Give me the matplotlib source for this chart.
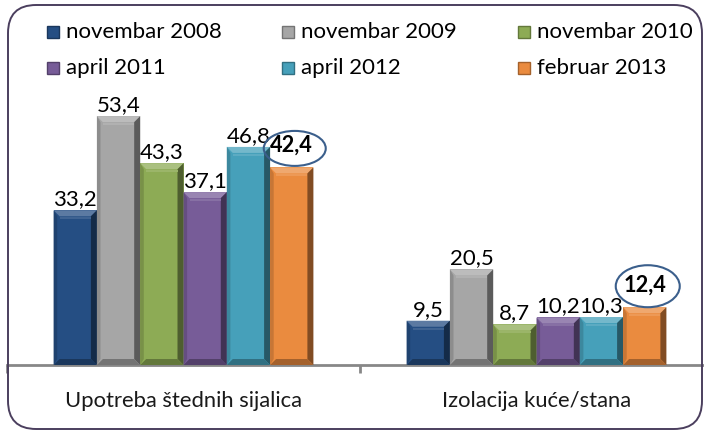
import matplotlib
matplotlib.use("Agg")
import matplotlib.pyplot as plt
import numpy as np
from matplotlib.patches import Polygon, Ellipse, Rectangle, FancyBboxPatch
from matplotlib.transforms import IdentityTransform
import matplotlib.colors as mcolors

categories = ["Upotreba štednih sijalica", "Izolacija kuće/stana"]
series = ["novembar 2008", "novembar 2009", "novembar 2010",
          "april 2011", "april 2012", "februar 2013"]
values = {
    "novembar 2008": [33.2, 9.5],
    "novembar 2009": [53.4, 20.5],
    "novembar 2010": [43.3, 8.7],
    "april 2011": [37.1, 10.2],
    "april 2012": [46.8, 10.3],
    "februar 2013": [42.4, 12.4],
}
value_labels = {
    "novembar 2008": ["33,2", "9,5"],
    "novembar 2009": ["53,4", "20,5"],
    "novembar 2010": ["43,3", "8,7"],
    "april 2011": ["37,1", "10,2"],
    "april 2012": ["46,8", "10,3"],
    "februar 2013": ["42,4", "12,4"],
}
highlight = "februar 2013"
colors = ["#254e83", "#a6a6a6", "#8dab55", "#775c98", "#46a0ba", "#ea8b3f"]

FONT = "Lato"
plt.rcParams['font.family'] = [FONT, 'DejaVu Sans']

W, H = 704, 434
fig = plt.figure(figsize=(W / 100, H / 100), dpi=100)
base_y = 365
px_per_unit = 4.66
ymax = 60
ax_left, ax_right = 7, 713
ax = fig.add_axes([ax_left / W, (H - base_y) / H, (ax_right - ax_left) / W,
                   ymax * px_per_unit / H])
ax.set_xlim(-0.5, 1.5)
ax.set_ylim(0, ymax)
for s in ["top", "right", "left"]:
    ax.spines[s].set_visible(False)
ax.spines["bottom"].set_color("#878787")
ax.spines["bottom"].set_linewidth(2)
ax.set_yticks([])
ax.set_xticks(np.arange(len(categories)))
ax.set_xticklabels(categories, fontsize=15.8, color="#1a1a1a")
ax.tick_params(axis="x", which="major", length=0, pad=19)
ax.set_xticks([-0.5, 0.5, 1.5], minor=True)
ax.tick_params(axis="x", which="minor", length=6, width=2, color="#878787")

n = len(series)
bw = 43.3 / 353
x = np.arange(len(categories))
bars_all = []
for i, s in enumerate(series):
    offs = (i - (n - 1) / 2) * bw
    bars = ax.bar(x + offs, values[s], width=bw, color=colors[i], zorder=2,
                  linewidth=0)
    bars_all.append(bars)

fig.canvas.draw()
idt = IdentityTransform()


def shade(c, f):
    r, g, b = mcolors.to_rgb(c)
    if f >= 0:
        return (r + (1 - r) * f, g + (1 - g) * f, b + (1 - b) * f)
    return (r * (1 + f), g * (1 + f), b * (1 + f))


bev = 6
for i, s in enumerate(series):
    for j, bar in enumerate(bars_all[i]):
        x0, y0 = ax.transData.transform((bar.get_x(), 0))
        x1, y1 = ax.transData.transform((bar.get_x() + bar.get_width(), bar.get_height()))
        c = colors[i]
        b = min(bev, (y1 - y0) / 2.5)
        facets = [
            ([(x0, y1), (x1, y1), (x1 - b, y1 - b), (x0 + b, y1 - b)], shade(c, 0.25)),
            ([(x1, y1), (x1, y0), (x1 - b, y0 + b), (x1 - b, y1 - b)], shade(c, -0.45)),
            ([(x0, y0), (x1, y0), (x1 - b, y0 + b), (x0 + b, y0 + b)], shade(c, -0.3)),
            ([(x0, y0), (x0, y1), (x0 + b * 0.6, y1 - b), (x0 + b * 0.6, y0 + b)], shade(c, -0.15)),
        ]
        for pts, fc in facets:
            fig.patches.append(Polygon(pts, closed=True, facecolor=fc, edgecolor="none",
                                       transform=idt, figure=fig, zorder=3))
        fig.patches.append(Polygon([(x0 + b, y1 - b - 1), (x1 - b, y1 - b - 1),
                                    (x1 - b, y1 - b - 3), (x0 + b, y1 - b - 3)],
                                   closed=True, facecolor=shade(c, 0.12), edgecolor="none",
                                   transform=idt, figure=fig, zorder=3))
        label = value_labels[s][j]
        cx = bar.get_x() + bar.get_width() / 2
        if s == highlight:
            ax.annotate(label, (cx, bar.get_height()), xytext=(0, 11),
                        textcoords="offset points", ha="center", va="baseline",
                        fontsize=15.7, fontweight="bold", color="#000000", zorder=5)
            ex, ey = ax.transData.transform((cx, bar.get_height()))
            ew, eh = (62, 35) if j == 0 else (64, 42)
            fig.patches.append(Ellipse((ex + 3, ey + 19 + (0 if j == 0 else 2)), ew, eh,
                                       facecolor="none", edgecolor="#3b5f8c", lw=1.5,
                                       transform=idt, figure=fig, zorder=6))
        else:
            ax.annotate(label, (cx, bar.get_height()), xytext=(0, 3.6),
                        textcoords="offset points", ha="center", va="baseline",
                        fontsize=16, color="#000000", zorder=5)

# legend (manual)
sq_x = [47, 282, 518]
row_y = [32, 68]
sq = 12
for i, s in enumerate(series):
    col, row = i % 3, i // 3
    px = sq_x[col]
    py = H - row_y[row]
    fig.patches.append(Rectangle((px, py - sq / 2), sq, sq, facecolor=colors[i],
                                 edgecolor=shade(colors[i], -0.3), lw=1,
                                 transform=idt, figure=fig))
    fig.text((px + sq + 7) / W, py / H, s, fontsize=16, va="center", ha="left",
             color="#000000")

# frame
fig.patches.append(FancyBboxPatch((8 / W, 5 / H), 694 / W, 424 / H,
                                  boxstyle="round,pad=0,rounding_size=0.04",
                                  transform=fig.transFigure, facecolor="none",
                                  edgecolor="#4b3f5e", lw=1.4, figure=fig,
                                  mutation_aspect=W / H))

fig.savefig("out.png", dpi=100)
